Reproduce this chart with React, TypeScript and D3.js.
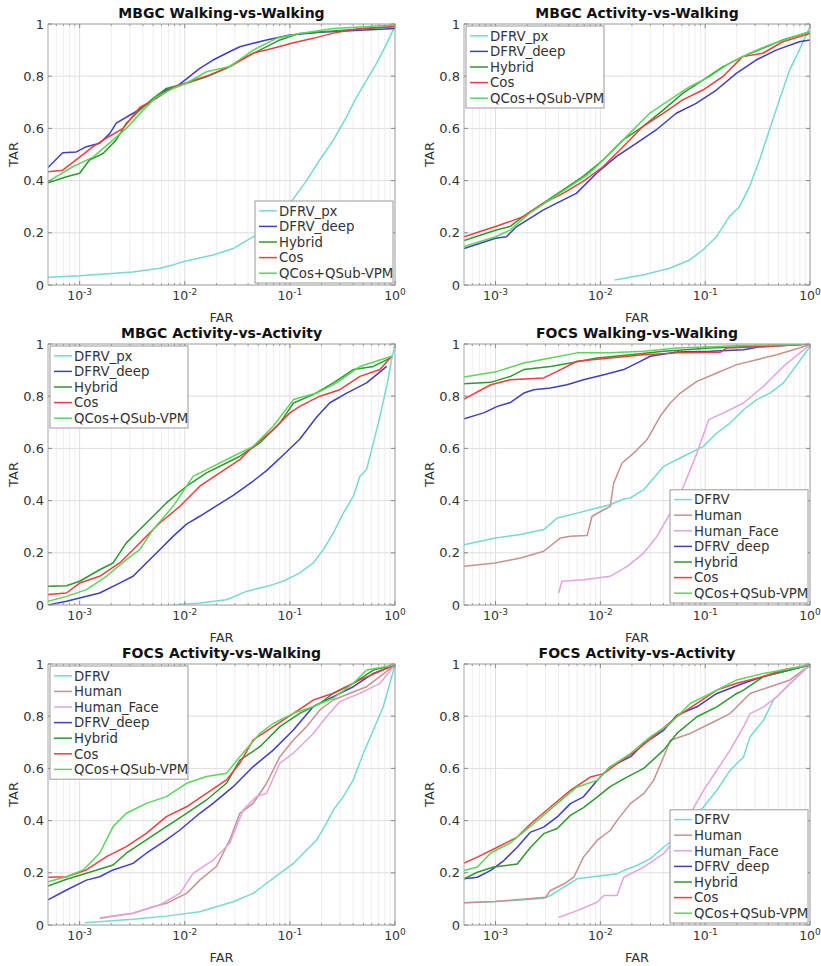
import React from "react";
import * as d3 from "d3";

type Pt = [number, number];

// ---------- Text / ticks ----------
const PANEL_TITLES = [
  "MBGC Walking-vs-Walking",
  "MBGC Activity-vs-Walking",
  "MBGC Activity-vs-Activity",
  "FOCS Walking-vs-Walking",
  "FOCS Activity-vs-Walking",
  "FOCS Activity-vs-Activity",
];
const X_DOMAIN: [number, number] = [5e-4, 1];
const X_TICKS = [1e-3, 1e-2, 1e-1, 1];
const X_TICK_EXPONENTS = ["-3", "-2", "-1", "0"];
const Y_TICKS = [0, 0.2, 0.4, 0.6, 0.8, 1];
const Y_TICK_LABELS = ["0", "0.2", "0.4", "0.6", "0.8", "1"];
const X_LABEL = "FAR";
const Y_LABEL = "TAR";

const MBGC_NAMES = ["DFRV_px", "DFRV_deep", "Hybrid", "Cos", "QCos+QSub-VPM"];
const FOCS_NAMES = ["DFRV", "Human", "Human_Face", "DFRV_deep", "Hybrid", "Cos", "QCos+QSub-VPM"];

// ---------- Panel 1: MBGC Walking-vs-Walking ----------
const p1_dfrvpx: Pt[] = [[0.0005,0.03],[0.001,0.035],[0.0032,0.05],[0.0058,0.064],[0.0077,0.077],[0.0098,0.09],[0.0186,0.115],[0.029,0.14],[0.045,0.185],[0.06,0.21],[0.075,0.26],[0.099,0.31],[0.144,0.40],[0.193,0.48],[0.259,0.555],[0.347,0.645],[0.431,0.72],[0.537,0.785],[0.669,0.85],[0.833,0.925],[0.929,0.965],[1,0.99]];
const p1_deep: Pt[] = [[0.0005,0.45],[0.00069,0.507],[0.00093,0.51],[0.00116,0.53],[0.00155,0.543],[0.00193,0.58],[0.00223,0.62],[0.00322,0.658],[0.00464,0.70],[0.00668,0.747],[0.00833,0.76],[0.0104,0.79],[0.0139,0.83],[0.0186,0.862],[0.0249,0.888],[0.0334,0.913],[0.0448,0.926],[0.06,0.939],[0.1,0.958],[0.193,0.968],[0.373,0.974],[1,0.983]];
const p1_hybrid: Pt[] = [[0.0005,0.392],[0.00075,0.415],[0.001,0.428],[0.00124,0.479],[0.00167,0.504],[0.00223,0.556],[0.00278,0.62],[0.00373,0.67],[0.005,0.715],[0.00668,0.753],[0.0104,0.773],[0.0161,0.798],[0.0249,0.83],[0.0334,0.862],[0.0518,0.9],[0.0803,0.939],[0.124,0.964],[0.259,0.973],[0.537,0.983],[1,0.99]];
const p1_cos: Pt[] = [[0.0005,0.434],[0.00069,0.44],[0.001,0.49],[0.00134,0.53],[0.00193,0.57],[0.00259,0.60],[0.00373,0.68],[0.00537,0.715],[0.00774,0.757],[0.0112,0.78],[0.0173,0.805],[0.0289,0.843],[0.0448,0.888],[0.0694,0.907],[0.108,0.928],[0.167,0.945],[0.259,0.965],[0.464,0.983],[1,0.99]];
const p1_qcos: Pt[] = [[0.0005,0.396],[0.00086,0.453],[0.00134,0.49],[0.00208,0.556],[0.00278,0.60],[0.00401,0.67],[0.00537,0.72],[0.00774,0.753],[0.0104,0.773],[0.0161,0.817],[0.0268,0.837],[0.0448,0.9],[0.0747,0.945],[0.124,0.964],[0.259,0.983],[1,0.996]];

// ---------- Panel 2: MBGC Activity-vs-Walking ----------
const p2_dfrvpx: Pt[] = [[0.0137,0.019],[0.0254,0.038],[0.0458,0.064],[0.0712,0.096],[0.095,0.134],[0.128,0.185],[0.17,0.262],[0.212,0.30],[0.265,0.377],[0.33,0.479],[0.41,0.594],[0.51,0.709],[0.64,0.824],[0.79,0.90],[1,0.99]];
const p2_deep: Pt[] = [[0.0005,0.14],[0.001,0.179],[0.00127,0.185],[0.00159,0.224],[0.00284,0.287],[0.0038,0.313],[0.0059,0.351],[0.0092,0.428],[0.0142,0.492],[0.022,0.543],[0.034,0.594],[0.053,0.658],[0.082,0.696],[0.128,0.747],[0.198,0.811],[0.306,0.862],[0.475,0.9],[0.79,0.932],[1,0.939]];
const p2_hybrid: Pt[] = [[0.0005,0.17],[0.001,0.21],[0.00137,0.224],[0.00183,0.262],[0.00284,0.313],[0.0044,0.364],[0.0068,0.415],[0.0106,0.479],[0.0165,0.556],[0.0254,0.607],[0.0397,0.67],[0.061,0.734],[0.095,0.785],[0.147,0.836],[0.228,0.875],[0.355,0.907],[0.55,0.939],[1,0.97]];
const p2_cos: Pt[] = [[0.0005,0.185],[0.001,0.224],[0.00137,0.243],[0.00183,0.262],[0.00284,0.313],[0.0044,0.351],[0.0068,0.396],[0.0106,0.453],[0.0165,0.53],[0.0254,0.607],[0.0397,0.658],[0.061,0.709],[0.095,0.747],[0.147,0.798],[0.228,0.875],[0.355,0.888],[0.55,0.932],[1,0.964]];
const p2_qcos: Pt[] = [[0.0005,0.147],[0.001,0.185],[0.00137,0.21],[0.00212,0.275],[0.0033,0.326],[0.0051,0.377],[0.0079,0.428],[0.0123,0.504],[0.019,0.581],[0.0295,0.658],[0.0458,0.709],[0.0712,0.76],[0.11,0.798],[0.17,0.849],[0.265,0.888],[0.41,0.92],[1,0.97]];

// ---------- Panel 3: MBGC Activity-vs-Activity ----------
const p3_dfrvpx: Pt[] = [[0.0077,0.0],[0.0139,0.008],[0.0249,0.02],[0.0386,0.052],[0.0518,0.065],[0.0694,0.078],[0.093,0.097],[0.124,0.123],[0.167,0.161],[0.208,0.212],[0.259,0.276],[0.322,0.352],[0.401,0.416],[0.464,0.493],[0.537,0.519],[0.622,0.62],[0.72,0.723],[0.833,0.838],[0.929,0.94],[1,1.0]];
const p3_deep: Pt[] = [[0.0005,0.0],[0.00075,0.014],[0.001,0.027],[0.00155,0.046],[0.0024,0.084],[0.00322,0.11],[0.00431,0.161],[0.00578,0.212],[0.00774,0.263],[0.0104,0.31],[0.0139,0.34],[0.02,0.38],[0.0289,0.42],[0.0448,0.475],[0.06,0.515],[0.0865,0.575],[0.124,0.635],[0.18,0.72],[0.24,0.775],[0.347,0.812],[0.537,0.851],[0.833,0.914]];
const p3_hybrid: Pt[] = [[0.0005,0.072],[0.00075,0.074],[0.001,0.091],[0.00155,0.135],[0.00208,0.161],[0.00278,0.238],[0.00373,0.289],[0.005,0.34],[0.00668,0.391],[0.0104,0.455],[0.0161,0.506],[0.0249,0.544],[0.0334,0.57],[0.0518,0.621],[0.0803,0.697],[0.108,0.774],[0.167,0.806],[0.259,0.851],[0.401,0.902],[0.622,0.914],[0.9,0.946]];
const p3_cos: Pt[] = [[0.0005,0.04],[0.00075,0.046],[0.001,0.084],[0.00155,0.11],[0.0024,0.161],[0.00322,0.212],[0.00431,0.263],[0.00578,0.314],[0.009,0.378],[0.0139,0.455],[0.0215,0.506],[0.0334,0.557],[0.0448,0.608],[0.0694,0.672],[0.1,0.736],[0.124,0.761],[0.193,0.80],[0.299,0.825],[0.464,0.876],[0.72,0.902],[0.929,0.953]];
const p3_qcos: Pt[] = [[0.0005,0.014],[0.00075,0.033],[0.00116,0.059],[0.0018,0.11],[0.00278,0.174],[0.00373,0.212],[0.005,0.289],[0.00774,0.378],[0.012,0.493],[0.0186,0.531],[0.0289,0.57],[0.0448,0.608],[0.0694,0.685],[0.108,0.787],[0.18,0.812],[0.278,0.851],[0.464,0.914],[0.929,0.953]];

// ---------- Panel 4: FOCS Walking-vs-Walking ----------
const p4_dfrv: Pt[] = [[0.0005,0.231],[0.001,0.257],[0.00173,0.27],[0.00288,0.289],[0.00387,0.333],[0.006,0.352],[0.0093,0.372],[0.0124,0.384],[0.0167,0.406],[0.0193,0.41],[0.0259,0.442],[0.0401,0.531],[0.0622,0.57],[0.0964,0.608],[0.129,0.659],[0.173,0.697],[0.232,0.748],[0.31,0.787],[0.416,0.812],[0.557,0.851],[0.694,0.902],[1,0.991]];
const p4_human: Pt[] = [[0.0005,0.148],[0.001,0.161],[0.00173,0.18],[0.00288,0.206],[0.00416,0.257],[0.00518,0.263],[0.00747,0.266],[0.00833,0.34],[0.0108,0.365],[0.0124,0.378],[0.0134,0.467],[0.0161,0.544],[0.0208,0.582],[0.0278,0.633],[0.0372,0.723],[0.0464,0.774],[0.0578,0.812],[0.0834,0.857],[0.129,0.889],[0.2,0.921],[0.31,0.94],[0.482,0.959],[1,0.997]];
const p4_humanface: Pt[] = [[0.004,0.046],[0.0043,0.091],[0.0069,0.097],[0.0124,0.11],[0.018,0.148],[0.0259,0.199],[0.0347,0.263],[0.0464,0.352],[0.0622,0.455],[0.0834,0.582],[0.108,0.71],[0.15,0.736],[0.232,0.774],[0.36,0.838],[0.557,0.914],[1,0.997]];
const p4_deep: Pt[] = [[0.0005,0.713],[0.00077,0.736],[0.00104,0.761],[0.00139,0.776],[0.00186,0.812],[0.00232,0.825],[0.00334,0.831],[0.0048,0.844],[0.0069,0.863],[0.0108,0.882],[0.0167,0.902],[0.0223,0.927],[0.0299,0.953],[0.0537,0.969],[0.112,0.972],[0.232,0.978],[0.334,0.989],[1,1.0]];
const p4_hybrid: Pt[] = [[0.0005,0.848],[0.0009,0.853],[0.00139,0.876],[0.00186,0.902],[0.00334,0.914],[0.00518,0.927],[0.0093,0.946],[0.0193,0.959],[0.0401,0.972],[0.112,0.985],[1,1.0]];
const p4_cos: Pt[] = [[0.0005,0.789],[0.0009,0.844],[0.00139,0.863],[0.00288,0.87],[0.00387,0.895],[0.006,0.934],[0.0124,0.946],[0.0259,0.959],[0.0537,0.966],[0.139,0.968],[0.161,0.985],[0.334,0.989],[1,1.0]];
const p4_qcos: Pt[] = [[0.0005,0.874],[0.00104,0.895],[0.00186,0.927],[0.00334,0.946],[0.006,0.966],[0.0124,0.966],[0.0259,0.972],[0.0537,0.985],[0.232,0.994],[1,1.0]];

// ---------- Panel 5: FOCS Activity-vs-Walking ----------
const p5_dfrv: Pt[] = [[0.00112,0.009],[0.00322,0.022],[0.00668,0.034],[0.0139,0.051],[0.02,0.07],[0.0289,0.089],[0.0448,0.121],[0.06,0.16],[0.0803,0.198],[0.108,0.236],[0.144,0.287],[0.18,0.326],[0.223,0.39],[0.259,0.44],[0.322,0.492],[0.401,0.556],[0.5,0.658],[0.622,0.747],[0.775,0.837],[1,0.996]];
const p5_human: Pt[] = [[0.00155,0.026],[0.00322,0.045],[0.005,0.07],[0.00668,0.083],[0.0104,0.121],[0.0139,0.172],[0.02,0.224],[0.0268,0.326],[0.0334,0.428],[0.0448,0.466],[0.06,0.543],[0.0803,0.645],[0.108,0.709],[0.144,0.76],[0.193,0.824],[0.259,0.862],[0.373,0.888],[0.537,0.913],[1,0.996]];
const p5_humanface: Pt[] = [[0.0018,0.032],[0.00322,0.045],[0.00578,0.077],[0.009,0.121],[0.012,0.198],[0.0186,0.249],[0.0268,0.313],[0.036,0.441],[0.0482,0.492],[0.06,0.505],[0.0803,0.62],[0.108,0.658],[0.167,0.734],[0.223,0.798],[0.299,0.856],[0.464,0.888],[0.72,0.926],[1,0.996]];
const p5_deep: Pt[] = [[0.0005,0.096],[0.00075,0.134],[0.00116,0.172],[0.00155,0.185],[0.00208,0.211],[0.00322,0.236],[0.00431,0.275],[0.00668,0.326],[0.009,0.364],[0.0139,0.428],[0.0186,0.466],[0.0289,0.53],[0.0448,0.607],[0.0694,0.67],[0.108,0.747],[0.167,0.837],[0.259,0.875],[0.401,0.913],[0.622,0.964],[1,0.996]];
const p5_hybrid: Pt[] = [[0.0005,0.149],[0.00075,0.175],[0.00116,0.198],[0.00208,0.23],[0.00278,0.275],[0.00431,0.326],[0.00668,0.377],[0.0104,0.428],[0.0161,0.479],[0.0249,0.543],[0.0334,0.632],[0.0518,0.683],[0.0803,0.76],[0.124,0.811],[0.193,0.849],[0.259,0.888],[0.401,0.926],[0.622,0.977],[1,0.996]];
const p5_cos: Pt[] = [[0.0005,0.183],[0.00075,0.185],[0.00116,0.211],[0.0018,0.262],[0.00278,0.30],[0.00431,0.351],[0.00668,0.415],[0.0104,0.453],[0.0161,0.504],[0.0249,0.556],[0.0334,0.62],[0.0448,0.709],[0.0694,0.76],[0.108,0.811],[0.167,0.862],[0.259,0.888],[0.464,0.939],[1,0.996]];
const p5_qcos: Pt[] = [[0.0005,0.166],[0.00075,0.185],[0.00108,0.211],[0.00155,0.275],[0.00208,0.377],[0.00278,0.428],[0.00431,0.466],[0.00668,0.492],[0.0104,0.543],[0.0161,0.569],[0.0249,0.581],[0.0334,0.645],[0.0518,0.734],[0.0694,0.772],[0.108,0.811],[0.167,0.837],[0.259,0.869],[0.401,0.926],[0.537,0.977],[1,0.996]];

// ---------- Panel 6: FOCS Activity-vs-Activity ----------
const p6_dfrv: Pt[] = [[0.0005,0.085],[0.001,0.09],[0.00288,0.102],[0.00334,0.113],[0.00448,0.145],[0.006,0.177],[0.0093,0.187],[0.0144,0.196],[0.0167,0.209],[0.0223,0.228],[0.0299,0.254],[0.0401,0.298],[0.0537,0.337],[0.072,0.401],[0.0964,0.452],[0.129,0.516],[0.173,0.593],[0.232,0.644],[0.268,0.721],[0.36,0.785],[0.448,0.862],[0.557,0.90],[1,0.996]];
const p6_human: Pt[] = [[0.0005,0.085],[0.001,0.09],[0.003,0.106],[0.00334,0.132],[0.00448,0.157],[0.00557,0.183],[0.0069,0.26],[0.0093,0.324],[0.0124,0.362],[0.0144,0.40],[0.0193,0.465],[0.0259,0.503],[0.0322,0.554],[0.0401,0.644],[0.0464,0.708],[0.072,0.734],[0.112,0.772],[0.173,0.81],[0.268,0.887],[0.416,0.913],[0.645,0.939],[1,0.996]];
const p6_humanface: Pt[] = [[0.004,0.029],[0.006,0.055],[0.0093,0.087],[0.0108,0.113],[0.0144,0.113],[0.0167,0.183],[0.0259,0.222],[0.0401,0.273],[0.0537,0.337],[0.072,0.426],[0.0964,0.516],[0.129,0.593],[0.173,0.67],[0.232,0.759],[0.268,0.81],[0.36,0.836],[0.482,0.874],[0.645,0.926],[1,0.996]];
const p6_deep: Pt[] = [[0.0005,0.177],[0.00067,0.183],[0.0009,0.209],[0.0012,0.247],[0.00161,0.298],[0.00216,0.356],[0.00288,0.375],[0.00387,0.414],[0.00518,0.465],[0.0069,0.491],[0.0093,0.554],[0.0124,0.606],[0.0193,0.644],[0.0259,0.695],[0.0401,0.746],[0.0537,0.804],[0.0834,0.836],[0.129,0.887],[0.232,0.926],[0.36,0.952],[1,0.996]];
const p6_hybrid: Pt[] = [[0.0005,0.177],[0.00067,0.202],[0.00096,0.222],[0.00161,0.234],[0.00216,0.298],[0.00288,0.35],[0.00387,0.37],[0.00518,0.42],[0.0069,0.45],[0.0093,0.49],[0.0124,0.53],[0.0167,0.56],[0.0259,0.60],[0.0401,0.67],[0.0537,0.734],[0.0834,0.798],[0.129,0.836],[0.2,0.887],[0.232,0.90],[0.36,0.952],[1,0.996]];
const p6_cos: Pt[] = [[0.0005,0.237],[0.00067,0.26],[0.00104,0.298],[0.00161,0.337],[0.00216,0.388],[0.00334,0.452],[0.00518,0.516],[0.008,0.567],[0.0108,0.58],[0.0144,0.618],[0.0223,0.67],[0.0347,0.734],[0.0537,0.798],[0.0834,0.849],[0.129,0.90],[0.2,0.926],[0.36,0.952],[0.557,0.978],[1,0.996]];
const p6_qcos: Pt[] = [[0.0005,0.209],[0.00067,0.222],[0.0009,0.276],[0.00139,0.315],[0.0025,0.40],[0.00387,0.465],[0.006,0.529],[0.0093,0.554],[0.0124,0.606],[0.0193,0.657],[0.0299,0.721],[0.0464,0.772],[0.072,0.849],[0.112,0.887],[0.2,0.939],[0.36,0.964],[1,0.996]];

// ---------- Styles ----------
const COLORS: Record<string, string> = {
  DFRV_px: "#74dad3",
  DFRV: "#74dad3",
  Human: "#c9918b",
  Human_Face: "#e5a2e3",
  DFRV_deep: "#3f3fc2",
  Hybrid: "#2c9a2c",
  Cos: "#f23d3d",
  "QCos+QSub-VPM": "#5ad65a",
};

const FONT = "'DejaVu Sans', Verdana, sans-serif";

type Series = { name: string; data: Pt[] };
type PanelDef = {
  title: string;
  series: Series[];
  legend: "nw" | "se";
  left: number;
  right: number;
  top: number;
  bottom: number;
};

const mk = (names: string[], arrs: Pt[][]): Series[] =>
  names.map((n, i) => ({ name: n, data: arrs[i] }));

const PANELS: PanelDef[] = [
  { title: PANEL_TITLES[0], series: mk(MBGC_NAMES, [p1_dfrvpx, p1_deep, p1_hybrid, p1_cos, p1_qcos]), legend: "se", left: 48, right: 395, top: 24, bottom: 285 },
  { title: PANEL_TITLES[1], series: mk(MBGC_NAMES, [p2_dfrvpx, p2_deep, p2_hybrid, p2_cos, p2_qcos]), legend: "nw", left: 464, right: 810, top: 24, bottom: 285 },
  { title: PANEL_TITLES[2], series: mk(MBGC_NAMES, [p3_dfrvpx, p3_deep, p3_hybrid, p3_cos, p3_qcos]), legend: "nw", left: 48, right: 395, top: 344, bottom: 605 },
  { title: PANEL_TITLES[3], series: mk(FOCS_NAMES, [p4_dfrv, p4_human, p4_humanface, p4_deep, p4_hybrid, p4_cos, p4_qcos]), legend: "se", left: 464, right: 810, top: 344, bottom: 605 },
  { title: PANEL_TITLES[4], series: mk(FOCS_NAMES, [p5_dfrv, p5_human, p5_humanface, p5_deep, p5_hybrid, p5_cos, p5_qcos]), legend: "nw", left: 48, right: 395, top: 664, bottom: 925 },
  { title: PANEL_TITLES[5], series: mk(FOCS_NAMES, [p6_dfrv, p6_human, p6_humanface, p6_deep, p6_hybrid, p6_cos, p6_qcos]), legend: "se", left: 464, right: 810, top: 664, bottom: 925 },
];

function minorTicks(): number[] {
  const out: number[] = [];
  for (let e = -4; e <= -1; e++) {
    for (let m = 2; m <= 9; m++) {
      const v = m * Math.pow(10, e);
      if (v > X_DOMAIN[0] && v < X_DOMAIN[1]) out.push(v);
    }
  }
  return out;
}

function Panel({ p, idx }: { p: PanelDef; idx: number }) {
  const x = d3.scaleLog().domain(X_DOMAIN).range([p.left, p.right]);
  const y = d3.scaleLinear().domain([0, 1]).range([p.bottom, p.top]);
  const line = d3
    .line<Pt>()
    .x((d) => x(d[0]))
    .y((d) => y(d[1]));
  const minors = minorTicks();
  const clipId = `clip${idx}`;
  const n = p.series.length;
  const rowH = 15.6;
  const legW = 138;
  const legH = n * rowH + 4;
  const legX = p.legend === "nw" ? p.left + 2 : p.right - 2 - legW;
  const legY = p.legend === "nw" ? p.top + 2 : p.bottom - 2 - legH;
  const cx = (p.left + p.right) / 2;
  const cy = (p.top + p.bottom) / 2;
  return (
    <g>
      <defs>
        <clipPath id={clipId}>
          <rect x={p.left} y={p.top} width={p.right - p.left} height={p.bottom - p.top} />
        </clipPath>
      </defs>
      <rect x={p.left} y={p.top} width={p.right - p.left} height={p.bottom - p.top} fill="#fff" />
      {minors.map((v, i) => (
        <line key={"mg" + i} x1={x(v)} x2={x(v)} y1={p.top} y2={p.bottom} stroke="#efefef" strokeWidth={1} />
      ))}
      {X_TICKS.map((v, i) => (
        <line key={"xg" + i} x1={x(v)} x2={x(v)} y1={p.top} y2={p.bottom} stroke="#dedede" strokeWidth={1} />
      ))}
      {Y_TICKS.map((v, i) => (
        <line key={"yg" + i} x1={p.left} x2={p.right} y1={y(v)} y2={y(v)} stroke="#dedede" strokeWidth={1} />
      ))}
      <g clipPath={`url(#${clipId})`}>
        {p.series.map((s) => (
          <path key={s.name} d={line(s.data) || ""} fill="none" stroke={COLORS[s.name]} strokeWidth={1.5} strokeLinejoin="round" />
        ))}
      </g>
      <rect x={p.left} y={p.top} width={p.right - p.left} height={p.bottom - p.top} fill="none" stroke="#a8a8a8" strokeWidth={1} />
      {X_TICKS.map((v, i) => (
        <g key={"xt" + i}>
          <line x1={x(v)} x2={x(v)} y1={p.bottom} y2={p.bottom - 4} stroke="#888" />
          <line x1={x(v)} x2={x(v)} y1={p.top} y2={p.top + 4} stroke="#888" />
        </g>
      ))}
      {minors.map((v, i) => (
        <g key={"mt" + i}>
          <line x1={x(v)} x2={x(v)} y1={p.bottom} y2={p.bottom - 2} stroke="#999" />
          <line x1={x(v)} x2={x(v)} y1={p.top} y2={p.top + 2} stroke="#999" />
        </g>
      ))}
      {Y_TICKS.map((v, i) => (
        <g key={"yt" + i}>
          <line x1={p.left} x2={p.left + 4} y1={y(v)} y2={y(v)} stroke="#888" />
          <line x1={p.right} x2={p.right - 4} y1={y(v)} y2={y(v)} stroke="#888" />
        </g>
      ))}
      {Y_TICKS.map((v, i) => (
        <text key={"yl" + i} x={p.left - 4} y={y(v)} dy="0.36em" textAnchor="end" fontSize={13} fill="#333" fontFamily={FONT}>
          {Y_TICK_LABELS[i]}
        </text>
      ))}
      {X_TICKS.map((v, i) => (
        <text key={"xl" + i} x={x(v)} y={p.bottom + 15} textAnchor="middle" fontSize={12.5} fill="#333" fontFamily={FONT}>
          10
          <tspan dy={-5} fontSize={9}>{X_TICK_EXPONENTS[i]}</tspan>
        </text>
      ))}
      <text x={cx} y={p.bottom + 37} textAnchor="middle" fontSize={13} fill="#333" fontFamily={FONT}>
        {X_LABEL}
      </text>
      <text transform={`translate(${p.left - 30},${cy}) rotate(-90)`} textAnchor="middle" fontSize={13} fill="#333" fontFamily={FONT}>
        {Y_LABEL}
      </text>
      <text x={cx} y={p.top - 6} textAnchor="middle" fontSize={14} fontWeight="bold" fill="#111" fontFamily={FONT}>
        {p.title}
      </text>
      <rect x={legX} y={legY} width={legW} height={legH} fill="#fff" stroke="#9a9a9a" strokeWidth={1} />
      {p.series.map((s, i) => {
        const ry = legY + 2 + rowH * (i + 0.5);
        return (
          <g key={"lg" + s.name}>
            <line x1={legX + 4} x2={legX + 22} y1={ry} y2={ry} stroke={COLORS[s.name]} strokeWidth={1.5} />
            <text x={legX + 24} y={ry} dy="0.36em" fontSize={13.3} fill="#333" fontFamily={FONT}>
              {s.name}
            </text>
          </g>
        );
      })}
    </g>
  );
}

export default function App() {
  return (
    <svg
      width={821}
      height={966}
      viewBox="0 0 821 966"
      style={{ position: "absolute", left: 0, top: 0, background: "#fff" }}
    >
      <rect x={0} y={0} width={821} height={966} fill="#fff" />
      {PANELS.map((p, i) => (
        <Panel key={i} p={p} idx={i} />
      ))}
    </svg>
  );
}
